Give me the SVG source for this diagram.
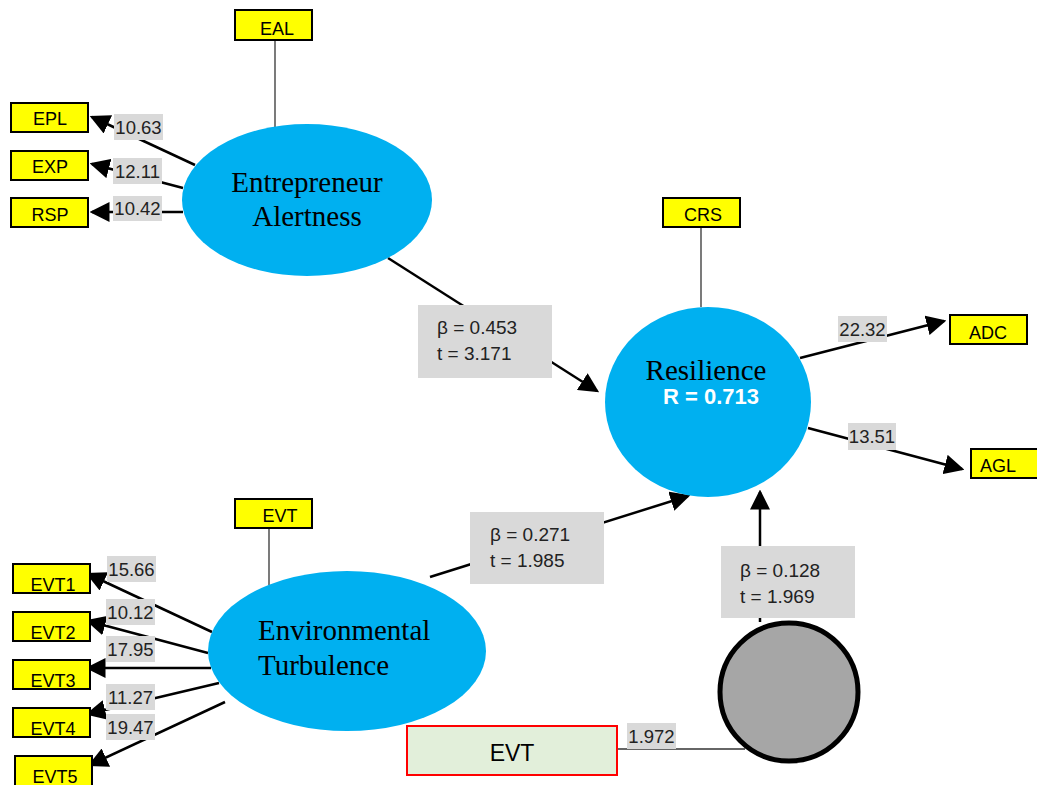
<svg xmlns="http://www.w3.org/2000/svg" width="1037" height="785" viewBox="0 0 1037 785">
<defs>
<style>
.ind{fill:#ffff00;stroke:#000;stroke-width:2}
.it{font-family:"Liberation Sans",Arial,sans-serif;font-size:18px;fill:#000;text-anchor:middle}
.lat{fill:#00b0f0}
.lt{font-family:"Liberation Serif","Times New Roman",serif;font-size:29px;fill:#000}
.lb{fill:#d9d9d9}
.ln{font-family:"Liberation Sans",Arial,sans-serif;font-size:18.5px;fill:#222}
.pt{font-family:"Liberation Sans",Arial,sans-serif;font-size:19px;fill:#222}
.ar{stroke:#000;stroke-width:2.5;fill:none;marker-end:url(#ah)}
.thin{stroke:#333;stroke-width:1.3;fill:none}
</style>
<marker id="ah" markerWidth="8" markerHeight="8" refX="7" refY="4" orient="auto" markerUnits="strokeWidth"><path d="M0,0 L8,4 L0,8 Z" fill="#000"/></marker>
</defs>
<rect width="1037" height="785" fill="#fff"/>
<g id="connectors">
<line class="thin" x1="275" y1="40" x2="275" y2="127"/>
<line class="ar" x1="195" y1="165" x2="92" y2="117"/>
<line class="ar" x1="183" y1="188" x2="92" y2="164"/>
<line class="ar" x1="183" y1="212" x2="92" y2="212"/>
<line class="ar" x1="388" y1="258" x2="597" y2="391"/>
<line class="thin" x1="701" y1="227" x2="701" y2="307"/>
<line class="ar" x1="800" y1="358" x2="944" y2="321"/>
<line class="ar" x1="808" y1="428" x2="962" y2="469"/>
<line class="thin" x1="269" y1="528" x2="269" y2="585"/>
<line class="ar" x1="212" y1="632" x2="88" y2="574"/>
<line class="ar" x1="208" y1="653" x2="88" y2="621"/>
<line class="ar" x1="211" y1="668" x2="88" y2="668"/>
<line class="ar" x1="219" y1="683" x2="88" y2="714"/>
<line class="ar" x1="225" y1="702" x2="90" y2="765"/>
<line class="ar" x1="430" y1="577" x2="688" y2="496"/>
<line class="ar" x1="760" y1="622" x2="760" y2="492"/>
<line class="thin" x1="617" y1="749" x2="745" y2="749"/>
</g>
<g id="labels">
<rect class="lb" x="114" y="114" width="49" height="26"/><text class="ln" x="138.5" y="134" text-anchor="middle">10.63</text>
<rect class="lb" x="113" y="158" width="49" height="26"/><text class="ln" x="137.5" y="178" text-anchor="middle">12.11</text>
<rect class="lb" x="113" y="196" width="49" height="25"/><text class="ln" x="137.5" y="215" text-anchor="middle">10.42</text>
<rect class="lb" x="418" y="305" width="134" height="73"/>
<text class="pt" x="437" y="334">β = 0.453</text><text class="pt" x="437" y="360">t = 3.171</text>
<rect class="lb" x="838" y="316" width="49" height="26"/><text class="ln" x="862.5" y="336" text-anchor="middle">22.32</text>
<rect class="lb" x="848" y="423" width="48" height="27"/><text class="ln" x="872" y="443" text-anchor="middle">13.51</text>
<rect class="lb" x="107" y="556" width="49" height="26"/><text class="ln" x="131.5" y="576" text-anchor="middle">15.66</text>
<rect class="lb" x="106" y="599" width="49" height="26"/><text class="ln" x="130.5" y="619" text-anchor="middle">10.12</text>
<rect class="lb" x="106" y="636" width="49" height="26"/><text class="ln" x="130.5" y="656" text-anchor="middle">17.95</text>
<rect class="lb" x="106" y="684" width="49" height="26"/><text class="ln" x="130.5" y="704" text-anchor="middle">11.27</text>
<rect class="lb" x="106" y="714" width="49" height="26"/><text class="ln" x="130.5" y="734" text-anchor="middle">19.47</text>
<rect class="lb" x="470" y="512" width="134" height="72"/>
<text class="pt" x="490" y="541">β = 0.271</text><text class="pt" x="490" y="567">t = 1.985</text>
<rect class="lb" x="721" y="546" width="134" height="72"/>
<text class="pt" x="740" y="577">β = 0.128</text><text class="pt" x="740" y="603">t = 1.969</text>
<rect class="lb" x="627" y="723" width="49" height="26"/><text class="ln" x="651.5" y="743" text-anchor="middle">1.972</text>
</g>
<g id="EAL"><rect class="ind" x="235" y="10" width="77" height="30"/><text class="it" x="277" y="35">EAL</text></g>
<g id="EPL"><rect class="ind" x="11" y="103" width="77" height="29"/><text class="it" x="50" y="125">EPL</text></g>
<g id="EXP"><rect class="ind" x="11" y="151" width="77" height="29"/><text class="it" x="50" y="173">EXP</text></g>
<g id="RSP"><rect class="ind" x="11" y="198" width="77" height="29"/><text class="it" x="50" y="221">RSP</text></g>
<g id="EntrepreneurAlertness"><ellipse class="lat" cx="307" cy="200" rx="125" ry="76"/>
<text class="lt" x="307" y="192" text-anchor="middle">Entrepreneur</text><text class="lt" x="307" y="226" text-anchor="middle">Alertness</text></g>
<g id="CRS"><rect class="ind" x="663" y="198" width="77" height="29"/><text class="it" x="703" y="221">CRS</text></g>
<g id="Resilience"><ellipse class="lat" cx="708" cy="402" rx="103" ry="95"/>
<text class="lt" x="706" y="380" text-anchor="middle">Resilience</text>
<text x="711" y="404" text-anchor="middle" font-family="Liberation Sans,Arial,sans-serif" font-size="22" font-weight="bold" fill="#fff">R = 0.713</text></g>
<g id="ADC"><rect class="ind" x="950" y="315" width="77" height="29"/><text class="it" x="988" y="339">ADC</text></g>
<g id="AGL"><rect class="ind" x="971" y="449" width="70" height="29"/><text class="it" x="998" y="472">AGL</text></g>
<g id="EVT_ind"><rect class="ind" x="235" y="499" width="77" height="29"/><text class="it" x="280" y="522">EVT</text></g>
<g id="EnvironmentalTurbulence"><ellipse class="lat" cx="347" cy="651" rx="139" ry="80"/>
<text class="lt" x="258" y="640">Environmental</text><text class="lt" x="258" y="675">Turbulence</text></g>
<g id="EVT1"><rect class="ind" x="13" y="564" width="77" height="29"/><text class="it" x="53" y="591">EVT1</text></g>
<g id="EVT2"><rect class="ind" x="13" y="612" width="77" height="29"/><text class="it" x="53" y="639">EVT2</text></g>
<g id="EVT3"><rect class="ind" x="13" y="660" width="77" height="29"/><text class="it" x="53" y="687">EVT3</text></g>
<g id="EVT4"><rect class="ind" x="13" y="708" width="77" height="29"/><text class="it" x="53" y="735">EVT4</text></g>
<g id="EVT5"><rect class="ind" x="15" y="756" width="77" height="32"/><text class="it" x="55" y="783">EVT5</text></g>
<g id="Moderator"><circle cx="789" cy="692" r="69" fill="#a6a6a6" stroke="#000" stroke-width="5"/></g>
<g id="EVT_mod"><rect x="407" y="726" width="210" height="49" fill="#e2efda" stroke="#ff0000" stroke-width="2"/>
<text x="512" y="761" text-anchor="middle" font-family="Liberation Sans,Arial,sans-serif" font-size="23" fill="#000">EVT</text></g>
</svg>
